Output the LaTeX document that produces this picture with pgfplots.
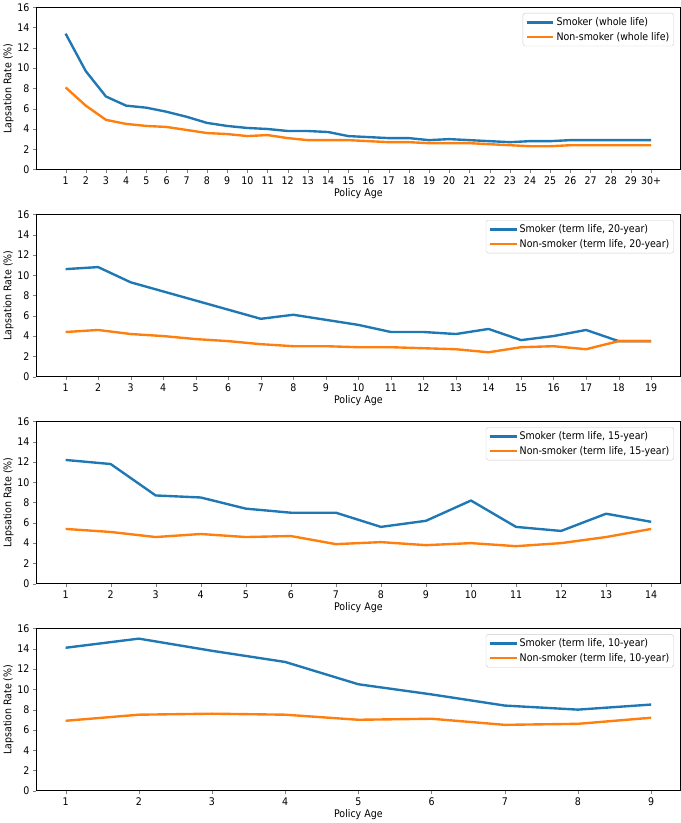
\documentclass[border=0pt]{standalone}
\usepackage{fontspec}
\setmainfont{DejaVu Sans Condensed}
\usepackage{pgfplots}
\pgfplotsset{compat=1.18}
\usepgfplotslibrary{groupplots}
\definecolor{tabblue}{HTML}{1F77B4}
\definecolor{taborange}{HTML}{FF7F0E}
\newcommand{\fs}{\fontsize{10.6}{12.5}\selectfont}

\begin{document}
\begin{tikzpicture}
\begin{groupplot}[
  group style={group size=1 by 4, vertical sep=45bp},
  scale only axis, width=647bp, height=163bp,
  ymin=0, ymax=16, ytick={0,2,...,16},
  tick align=outside, tick pos=left, major tick length=3.5bp,
  /pgf/number format/assume math mode=true,
  tick label style={font=\fs},
  label style={font=\fs},
  xlabel={Policy Age}, ylabel={Lapsation Rate (\%)},
  xlabel style={yshift=3bp}, ylabel style={yshift=-3bp},
  axis line style={line width=0.8pt},
  every axis plot/.append style={line width=2.4pt, line join=round},
  legend style={font=\fs, at={(0.99,0.965)}, anchor=north east,
    rounded corners=2pt, draw=black!20, fill=white, inner sep=2.5pt,
    row sep=1pt},
  legend cell align=left,
  legend image code/.code={\draw[#1, line width=2.4pt] (0bp,0bp) -- (27bp,0bp);},
]
\nextgroupplot[xmin=-0.45, xmax=31.45, xtick={1,...,30},
  xticklabels={1,2,3,4,5,6,7,8,9,10,11,12,13,14,15,16,17,18,19,20,21,22,23,24,25,26,27,28,29,30+}]
\addplot[tabblue] coordinates {
 (1,13.4)(2,9.7)(3,7.2)(4,6.3)(5,6.1)(6,5.7)(7,5.2)(8,4.6)(9,4.3)(10,4.1)
 (11,4.0)(12,3.8)(13,3.8)(14,3.7)(15,3.3)(16,3.2)(17,3.1)(18,3.1)(19,2.9)(20,3.0)
 (21,2.9)(22,2.8)(23,2.7)(24,2.8)(25,2.8)(26,2.9)(27,2.9)(28,2.9)(29,2.9)(30,2.9)};
\addlegendentry{Smoker (whole life)}
\addplot[taborange] coordinates {
 (1,8.1)(2,6.3)(3,4.9)(4,4.5)(5,4.3)(6,4.2)(7,3.9)(8,3.6)(9,3.5)(10,3.3)
 (11,3.4)(12,3.1)(13,2.9)(14,2.9)(15,2.9)(16,2.8)(17,2.7)(18,2.7)(19,2.6)(20,2.6)
 (21,2.6)(22,2.5)(23,2.4)(24,2.3)(25,2.3)(26,2.4)(27,2.4)(28,2.4)(29,2.4)(30,2.4)};
\addlegendentry{Non-smoker (whole life)}

\nextgroupplot[xmin=0.1, xmax=19.9, xtick={1,...,19}]
\addplot[tabblue] coordinates {
 (1,10.6)(2,10.8)(3,9.3)(4,8.4)(5,7.5)(6,6.6)(7,5.7)(8,6.1)(9,5.6)(10,5.1)
 (11,4.4)(12,4.4)(13,4.2)(14,4.7)(15,3.6)(16,4.0)(17,4.6)(18,3.5)(19,3.5)};
\addlegendentry{Smoker (term life, 20-year)}
\addplot[taborange] coordinates {
 (1,4.4)(2,4.6)(3,4.2)(4,4.0)(5,3.7)(6,3.5)(7,3.2)(8,3.0)(9,3.0)(10,2.9)
 (11,2.9)(12,2.8)(13,2.7)(14,2.4)(15,2.9)(16,3.0)(17,2.7)(18,3.5)(19,3.5)};
\addlegendentry{Non-smoker (term life, 20-year)}

\nextgroupplot[xmin=0.35, xmax=14.65, xtick={1,...,14}]
\addplot[tabblue] coordinates {
 (1,12.2)(2,11.8)(3,8.7)(4,8.5)(5,7.4)(6,7.0)(7,7.0)(8,5.6)(9,6.2)(10,8.2)
 (11,5.6)(12,5.2)(13,6.9)(14,6.1)};
\addlegendentry{Smoker (term life, 15-year)}
\addplot[taborange] coordinates {
 (1,5.4)(2,5.1)(3,4.6)(4,4.9)(5,4.6)(6,4.7)(7,3.9)(8,4.1)(9,3.8)(10,4.0)
 (11,3.7)(12,4.0)(13,4.6)(14,5.4)};
\addlegendentry{Non-smoker (term life, 15-year)}

\nextgroupplot[xmin=0.6, xmax=9.4, xtick={1,...,9}]
\addplot[tabblue] coordinates {
 (1,14.1)(2,15.0)(3,13.8)(4,12.7)(5,10.5)(6,9.5)(7,8.4)(8,8.0)(9,8.5)};
\addlegendentry{Smoker (term life, 10-year)}
\addplot[taborange] coordinates {
 (1,6.9)(2,7.5)(3,7.6)(4,7.5)(5,7.0)(6,7.1)(7,6.5)(8,6.6)(9,7.2)};
\addlegendentry{Non-smoker (term life, 10-year)}
\end{groupplot}
\end{tikzpicture}
\end{document}
